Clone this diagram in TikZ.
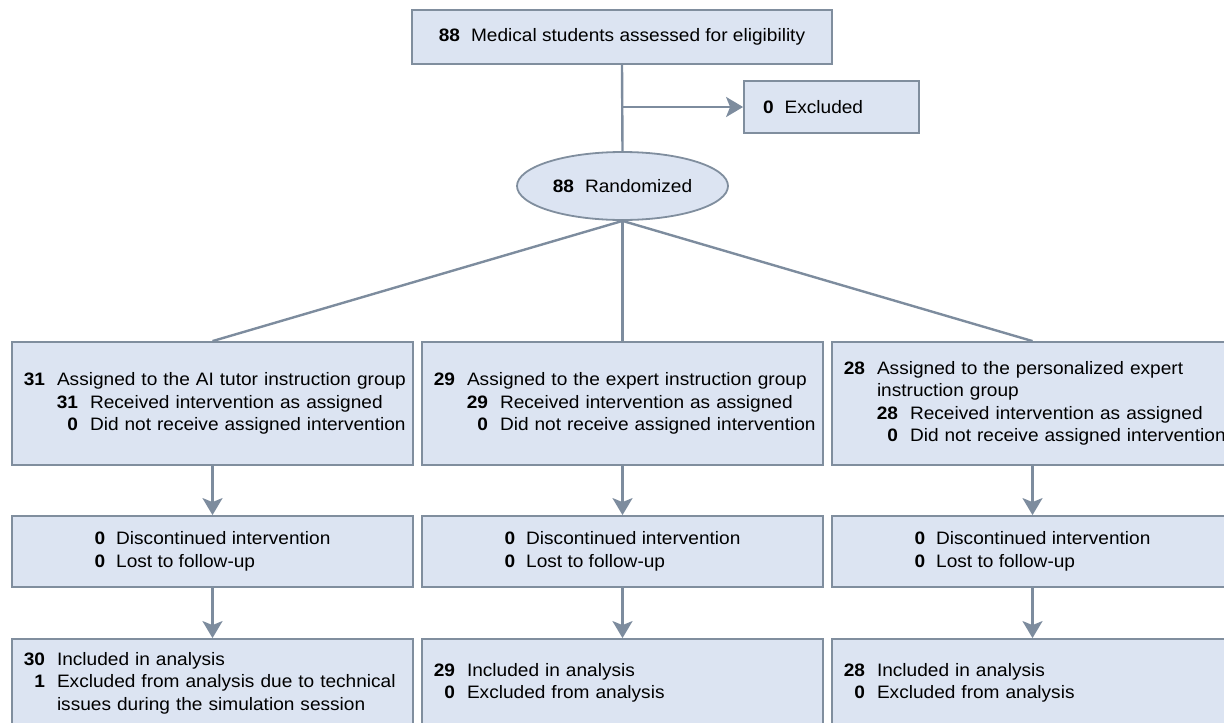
\documentclass[tikz,border=0pt]{standalone}
\usepackage{fontspec}
\setmainfont[FakeStretch=1.06]{Liberation Sans}
\usetikzlibrary{arrows.meta,shapes.geometric}
\definecolor{fillc}{RGB}{220,228,242}
\definecolor{bordc}{RGB}{128,142,158}
\definecolor{linec}{RGB}{125,140,158}
\newcommand\nline[2]{\mbox{\makebox[19pt][r]{\textbf{#1}}\hspace{12pt}#2}}
\newcommand\sline[2]{\mbox{\hspace{33pt}\makebox[19pt][r]{\textbf{#1}}\hspace{12pt}#2}}
\newcommand\contline[1]{\mbox{\hspace{31pt}#1}}
\newcommand\nb[1]{\textbf{#1}\hspace{11pt}}
\begin{document}
\begin{tikzpicture}[x=1pt,y=-1pt,
  font=\fontsize{18pt}{22.5pt}\selectfont,
  box/.style={draw=bordc, fill=fillc, line width=1.8pt, inner sep=0pt},
  grp/.style={box, text width=373pt, inner xsep=14pt, align=left, minimum height=123pt},
  mid/.style={box, align=left, minimum width=401pt, minimum height=71pt},
  res/.style={box, text width=373pt, inner xsep=14pt, align=left, minimum height=88pt},
  conn/.style={draw=linec, line width=2.4pt},
  arr/.style={conn, -{Stealth[length=17pt,width=20pt,inset=4pt]}}]
\useasboundingbox (0,0) rectangle (1224,723);
\clip (0,0) rectangle (1224,723);

\node[box, minimum width=420pt, minimum height=54pt] (top) at (622,37) {\nb{88}Medical students assessed for eligibility};
\node[box, text width=137pt, inner xsep=19pt, align=left, minimum height=52pt] (excl) at (831.5,107) {\nb{0}Excluded};
\node[box, ellipse, minimum width=211pt, minimum height=68pt] (rand) at (622.5,186) {\nb{88}Randomized};

\node[grp] (g1) at (212.5,403.5) {\nline{31}{Assigned to the AI tutor instruction group}\\ \sline{31}{Received intervention as assigned}\\ \sline{0}{Did not receive assigned intervention}};
\node[grp] (g2) at (622.5,403.5) {\nline{29}{Assigned to the expert instruction group}\\ \sline{29}{Received intervention as assigned}\\ \sline{0}{Did not receive assigned intervention}};
\node[grp] (g3) at (1032.5,403.5) {\nline{28}{Assigned to the personalized expert}\\ \contline{instruction group}\\ \sline{28}{Received intervention as assigned}\\ \sline{0}{Did not receive assigned intervention}};

\node[mid] (d1) at (212.5,551.5) {\nb{0}Discontinued intervention\\ \nb{0}Lost to follow-up};
\node[mid] (d2) at (622.5,551.5) {\nb{0}Discontinued intervention\\ \nb{0}Lost to follow-up};
\node[mid] (d3) at (1032.5,551.5) {\nb{0}Discontinued intervention\\ \nb{0}Lost to follow-up};

\node[res] (a1) at (212.5,683) {\nline{30}{Included in analysis}\\ \nline{1}{Excluded from analysis due to technical}\\ \contline{issues during the simulation session}};
\node[res] (a2) at (622.5,683) {\nline{29}{Included in analysis}\\ \nline{0}{Excluded from analysis}};
\node[res] (a3) at (1032.5,683) {\nline{28}{Included in analysis}\\ \nline{0}{Excluded from analysis}};

\coordinate (br) at (top.south |- excl.west);
\draw[conn] (top.south) -- (rand.north);
\draw[arr] (br) -- (excl.west);
\draw[conn] (rand.south) -- (g1.north);
\draw[conn] (rand.south) -- (g2.north);
\draw[conn] (rand.south) -- (g3.north);
\foreach \i in {1,2,3}{
  \draw[arr] (g\i.south) -- (d\i.north);
  \draw[arr] (d\i.south) -- (a\i.north);
}
\end{tikzpicture}
\end{document}
